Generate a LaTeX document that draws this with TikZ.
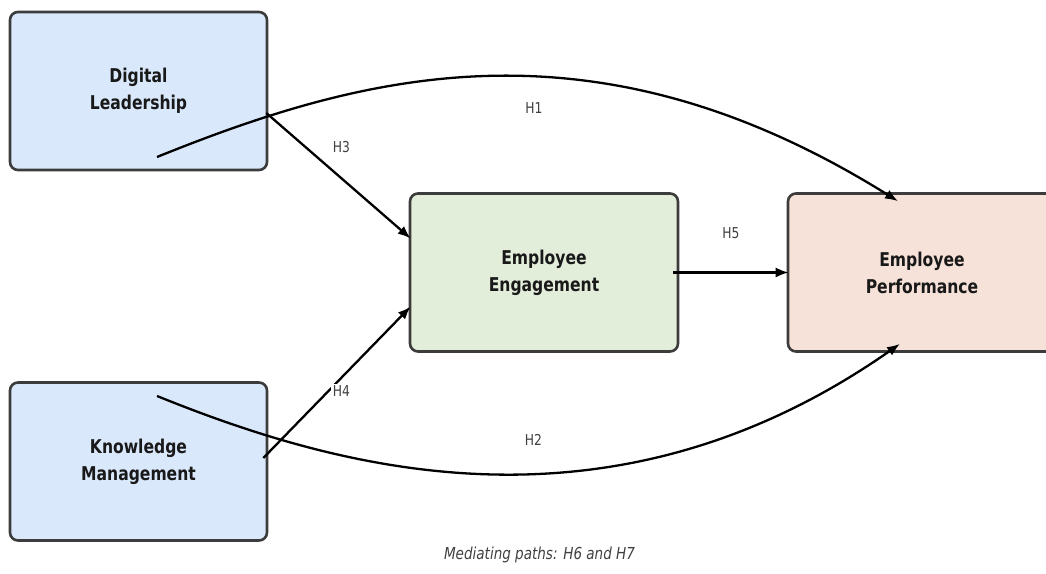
\documentclass[tikz,border=0pt]{standalone}
\usepackage{fontspec}
\setmainfont{DejaVu Sans}[FakeStretch=0.82]
\usetikzlibrary{arrows.meta}

\definecolor{leadblue}{HTML}{DAE8FC}
\definecolor{engagegreen}{HTML}{E2EDDA}
\definecolor{perfpeach}{HTML}{F6E2D8}
\definecolor{edgegray}{HTML}{3C3C3C}

\begin{document}
\begin{tikzpicture}[x=1pt,y=1pt,
    construct/.style={draw=edgegray, line width=2.6pt, rounded corners=8pt,
      minimum width=257pt, minimum height=158pt, align=center,
      text=black!90, font=\fontsize{19}{27}\selectfont\bfseries},
    hyp/.style={-{Latex[length=13pt,width=10pt]}, line width=2.3pt},
    hlabel/.style={font=\fontsize{15}{17}\selectfont, text=black!75,
      fill=white, inner sep=1.5pt}]
    \useasboundingbox (0,0) rectangle (1046,573);

    % Constructs
    \node[construct, fill=leadblue] (DL) at (138.5,482) {Digital\\Leadership};
    \node[construct, fill=leadblue] (KM) at (138.5,111.5) {Knowledge\\Management};
    \node[construct, fill=engagegreen, minimum width=268pt] (EE) at (544,300.5) {Employee\\Engagement};
    \node[construct, fill=perfpeach, minimum width=268pt] (EP) at (922,300.5) {Employee\\Performance};

    % Free ends of the direct paths
    \coordinate (DLfoot) at ([shift={(18.5,-66)}]DL.center);
    \coordinate (KMhead) at ([shift={(18.5,65.5)}]KM.center);

    % Direct paths
    \draw[hyp] (DLfoot) .. controls +(22:223) and +(148:358) .. ([shift={(-24,-9)}]EP.north)
      node[pos=0.55, xshift=6pt, yshift=-31pt, hlabel] (h1) {H1};
    \draw[hyp] (KMhead) .. controls +(-22:190) and +(215:357) .. ([shift={(-22,9)}]EP.south)
      node[pos=0.55, xshift=10pt, yshift=33pt, hlabel] (h2) {H2};

    % Paths through engagement
    \draw[hyp] ([shift={(-2,-22)}]DL.east) -- ([shift={(2,34)}]EE.west)
      node[midway, xshift=3pt, yshift=29pt, hlabel] (h3) {H3};
    \draw[hyp] ([shift={(-5,3.5)}]KM.east) -- ([shift={(2,-34)}]EE.west)
      node[pos=0.55, xshift=-3pt, yshift=-16pt, hlabel] (h4) {H4};
    \draw[hyp] ([xshift=-6pt]EE.east) -- ([xshift=2pt]EP.west)
      node[midway, yshift=39pt, hlabel] (h5) {H5};

    % Note
    \node[font=\fontsize{16.5}{18}\selectfont\itshape, text=black!75] (note) at (539.5,18) {Mediating paths: H6 and H7};
\end{tikzpicture}
\end{document}
